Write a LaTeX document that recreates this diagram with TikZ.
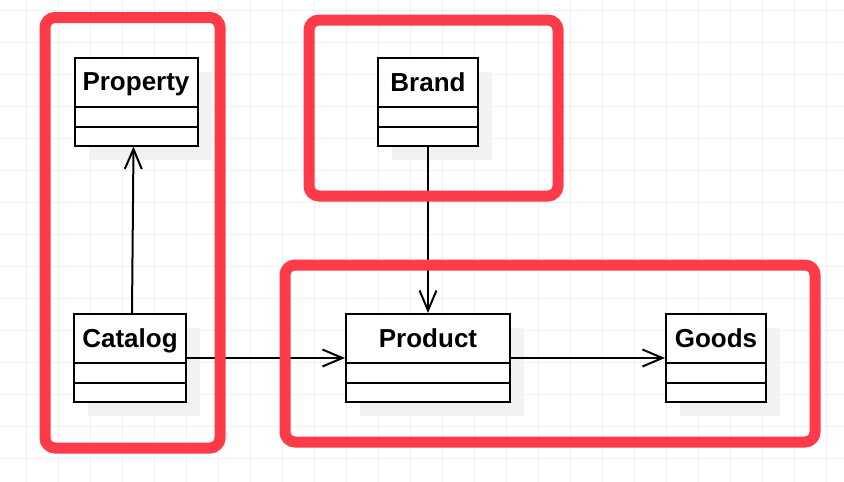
\documentclass[tikz,border=0pt]{standalone}
\usepackage{fontspec}
\setmainfont{Liberation Sans}
\usetikzlibrary{arrows.meta,shadows}
\definecolor{groupred}{RGB}{255,59,74}
\definecolor{gridgray}{RGB}{240,240,240}
\definecolor{shadowgray}{RGB}{242,242,242}

\begin{document}
\begin{tikzpicture}[x=1pt, y=-1pt,
	classbox/.style={draw, line width=2pt, fill=white, minimum height=88pt, inner sep=0pt,
		drop shadow={shadow xshift=14pt, shadow yshift=-14pt, fill=shadowgray, opacity=1}},
	title/.style={font=\fontsize{26}{30}\selectfont\bfseries, inner sep=0pt, anchor=base},
	group/.style={draw=groupred, line width=11pt, rounded corners=10pt, inner sep=0pt},
	assoc/.style={line width=2pt, -{Straight Barb[length=20pt, width=17pt, line width=2pt]}}]

	\useasboundingbox[fill=white] (0,0) rectangle (844,482);
	\foreach \x in {26,58,...,826} \draw[gridgray, line width=1pt] (\x,0) -- (\x,482);
	\foreach \y in {10,42,...,474} \draw[gridgray, line width=1pt] (0,\y) -- (844,\y);

	\node[classbox, minimum width=123pt]	(Property)	at (136,101.5)	{};
	\node[classbox, minimum width=100pt]	(Brand)		at (428,102)	{};
	\node[classbox, minimum width=112pt]	(Catalog)	at (130,358)	{};
	\node[classbox, minimum width=164pt]	(Product)	at (428,358)	{};
	\node[classbox, minimum width=100pt]	(Goods)		at (716,358)	{};

	\foreach \n in {Property,Brand,Catalog,Product,Goods} {
		\node[title] (\n-title) at ([yshift=-34pt]\n.north) {\n};
		\draw[line width=2pt] ([yshift=-50pt]\n.north west) -- ([yshift=-50pt]\n.north east);
		\draw[line width=2pt] ([yshift=-70pt]\n.north west) -- ([yshift=-70pt]\n.north east);
	}

	\path[assoc]
	([xshift=2pt]Catalog.north)	edge	([xshift=-2.5pt]Property.south)
	(Catalog)	edge	(Product)
	(Brand)		edge	(Product)
	(Product)	edge	(Goods);

	\node[group, minimum width=175pt, minimum height=430.5pt]	(left-group)	at (132.5,232.75)	{};
	\node[group, minimum width=249pt, minimum height=176pt]		(brand-group)	at (433.5,108)		{};
	\node[group, minimum width=530pt, minimum height=177pt]		(product-group)	at (550,353.5)		{};
\end{tikzpicture}
\end{document}
